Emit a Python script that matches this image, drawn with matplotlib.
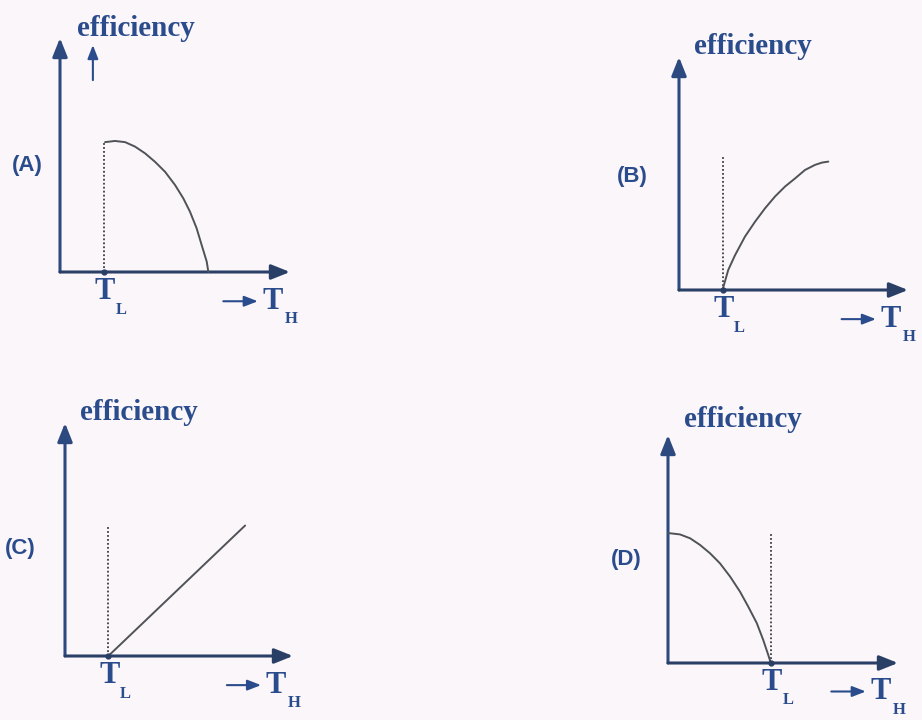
import matplotlib
matplotlib.use("Agg")
import matplotlib.pyplot as plt

# ---------------- data (axis-fraction units) ----------------
panel_names = ["(A)", "(B)", "(C)", "(D)"]
y_label = "efficiency"
tl_label = "T"
tl_sub = "L"
th_label = "T"
th_sub = "H"

# T_L position on the T_H axis for each panel
tl_pos = [0.19, 0.19, 0.19, 0.447]
# height of the dotted T_L line
tl_dot_top = [0.555, 0.57, 0.56, 0.57]

# curve (A): efficiency falls from a maximum at T_L to zero
a_t = [0.196, 0.239, 0.283, 0.326, 0.370, 0.413, 0.457, 0.500, 0.536, 0.565, 0.594, 0.616, 0.638, 0.645]
a_eff = [0.555, 0.560, 0.555, 0.536, 0.507, 0.471, 0.428, 0.372, 0.315, 0.258, 0.187, 0.115, 0.044, 0.0]

# curve (B): efficiency rises from zero at T_L and levels off
b_t = [0.19, 0.215, 0.245, 0.288, 0.332, 0.376, 0.419, 0.463, 0.507, 0.550, 0.594, 0.625, 0.652]
b_eff = [0.0, 0.086, 0.150, 0.229, 0.293, 0.351, 0.401, 0.444, 0.479, 0.515, 0.537, 0.547, 0.551]

# curve (C): straight line from T_L
c_t = [0.19, 0.79]
c_eff = [0.0, 0.56]

# curve (D): efficiency falls from the axis to zero at T_L
d_t = [0.0, 0.052, 0.096, 0.139, 0.183, 0.226, 0.270, 0.313, 0.349, 0.386, 0.414, 0.436, 0.447]
d_eff = [0.57, 0.564, 0.547, 0.518, 0.481, 0.437, 0.379, 0.313, 0.247, 0.175, 0.101, 0.035, 0.0]

curves_t = [a_t, b_t, c_t, d_t]
curves_eff = [a_eff, b_eff, c_eff, d_eff]

# ---------------- layout (pixel boxes of each panel: origin x, origin y, x-length, y-length) ----
W, H = 922, 720
boxes = [(60, 272, 230, 234), (679, 290, 229, 233), (65, 656, 228, 233), (668, 663, 230, 228)]
eff_label_pos = [(0.074, 1.04), (0.066, 1.043), (0.066, 1.047), (0.07, 1.07)]
name_pos = [(-0.14, 0.457), (-0.205, 0.485), (-0.197, 0.46), (-0.183, 0.454)]

BG = "#fbf6f9"
AXC = "#2c4a80"
AXC_X = "#293f66"
TXT = "#2b4c8c"
CURVE = "#4f5258"
DOT = "#3d3f45"
SERIF = ["Liberation Serif", "DejaVu Serif"]
SANS = ["Liberation Sans", "DejaVu Sans"]

fig = plt.figure(figsize=(W / 100, H / 100), dpi=100, facecolor=BG)

for i in range(4):
    ox, oy, w, h = boxes[i]
    ax = fig.add_axes([ox / W, (H - oy) / H, w / W, h / H])
    ax.set_xlim(0, 1)
    ax.set_ylim(0, 1)
    ax.axis("off")
    ax.patch.set_alpha(0)

    # axes arrows
    ax.annotate("", xy=(0, 1), xytext=(0, 0),
                arrowprops=dict(arrowstyle="-|>,head_length=0.8,head_width=0.32",
                                mutation_scale=14, lw=2.2, color=AXC,
                                shrinkA=0, shrinkB=0), annotation_clip=False)
    ax.annotate("", xy=(1, 0), xytext=(0, 0),
                arrowprops=dict(arrowstyle="-|>,head_length=0.8,head_width=0.32",
                                mutation_scale=14, lw=2.2, color=AXC_X,
                                shrinkA=0, shrinkB=0), annotation_clip=False)

    # curve
    ax.plot(curves_t[i], curves_eff[i], color=CURVE, lw=1.4, clip_on=False,
            solid_capstyle="round", solid_joinstyle="round", zorder=3)
    # dotted T_L line
    ax.plot([tl_pos[i], tl_pos[i]], [0, tl_dot_top[i]], color=DOT, lw=1.3,
            linestyle=(0, (1, 1.2)), clip_on=False, zorder=2)
    ax.plot([tl_pos[i]], [0], marker="o", ms=3.5, color=AXC_X, clip_on=False, zorder=4)

    # efficiency label
    ex, ey = eff_label_pos[i]
    ax.text(ex, ey, y_label, family=SERIF, weight="bold", fontsize=21, color=TXT,
            ha="left", va="center")
    if i == 0:
        ax.annotate("", xy=(0.143, 0.97), xytext=(0.143, 0.82),
                    arrowprops=dict(arrowstyle="-|>,head_length=0.9,head_width=0.35",
                                    mutation_scale=9, lw=1.5, color=TXT,
                                    shrinkA=0, shrinkB=0), annotation_clip=False)

    # panel name
    nx, ny = name_pos[i]
    ax.text(nx, ny, panel_names[i], family=SANS, weight="bold", fontsize=16, color=TXT,
            ha="center", va="center")

    # T_L label
    ax.text(tl_pos[i] + 0.005, -0.085, tl_label, family=SERIF, weight="bold",
            fontsize=22, color=TXT, ha="center", va="center")
    ax.annotate(tl_sub, xy=(tl_pos[i] + 0.005, -0.085), xytext=(11.5, -13),
                textcoords="offset points", family=SERIF, weight="bold",
                fontsize=12, color=TXT, ha="center", va="center", annotation_clip=False)

    # -> T_H label
    ax.annotate("", xy=(0.86, -0.125), xytext=(0.71, -0.125),
                arrowprops=dict(arrowstyle="-|>,head_length=0.9,head_width=0.35",
                                mutation_scale=9, lw=1.5, color=TXT,
                                shrinkA=0, shrinkB=0), annotation_clip=False)
    ax.text(0.925, -0.125, th_label, family=SERIF, weight="bold",
            fontsize=22, color=TXT, ha="center", va="center")
    ax.annotate(th_sub, xy=(0.925, -0.125), xytext=(13, -13),
                textcoords="offset points", family=SERIF, weight="bold",
                fontsize=12, color=TXT, ha="center", va="center", annotation_clip=False)

fig.savefig("out.png", dpi=100, facecolor=BG)
